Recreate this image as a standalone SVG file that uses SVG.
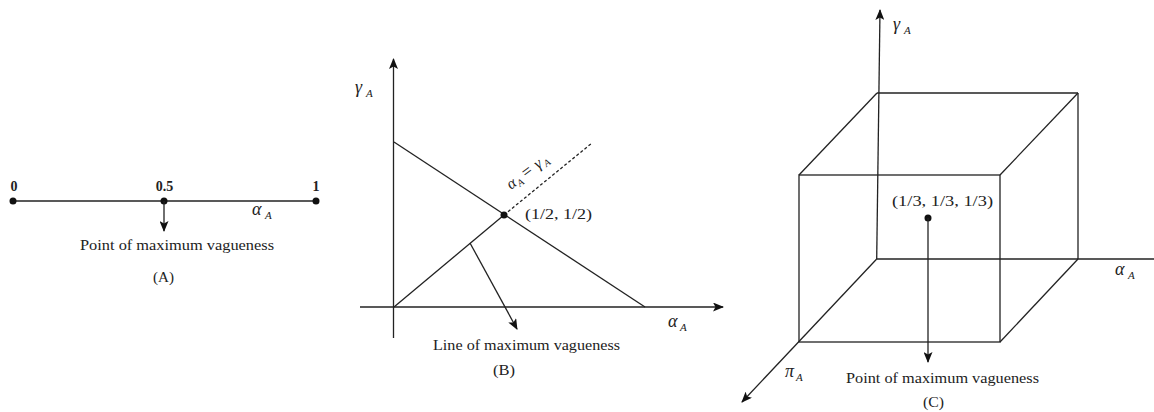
<svg xmlns="http://www.w3.org/2000/svg" width="1154" height="412" viewBox="0 0 1154 412">
<defs>
<marker id="ah" markerUnits="userSpaceOnUse" markerWidth="11" markerHeight="9" refX="10" refY="4.5" orient="auto">
<path d="M0,0 L11,4.5 L0,9 L2.5,4.5 z" fill="#111"/>
</marker>
<style>
line, polyline, path.l { stroke: #222; stroke-width: 1.3; fill: none; }
.arr { marker-end: url(#ah); }
.dash { stroke-dasharray: 3 2.2; }
.dot { fill: #111; }
text { font-family: "Liberation Serif", "Times New Roman", serif; fill: #222; font-size: 15px; }
.b { font-weight: bold; font-size: 14px; }
.m { font-style: italic; font-size: 18px; }
.s { font-style: italic; font-size: 11px; }
.mid { text-anchor: middle; }
</style>
</defs>
<rect width="1154" height="412" fill="#fff"/>

<g id="panelA">
<line x1="13" y1="201" x2="316" y2="201"/>
<circle class="dot" cx="13" cy="201" r="3.5"/>
<circle class="dot" cx="164" cy="201" r="3.5"/>
<circle class="dot" cx="316" cy="201" r="3.5"/>
<line class="arr" x1="164" y1="201" x2="164" y2="231"/>
<text class="b mid" x="14" y="191">0</text>
<text class="b mid" x="164.5" y="191">0.5</text>
<text class="b mid" x="316" y="191">1</text>
<text class="m" x="252" y="215">α</text><text class="s" x="265" y="219">A</text>
<text class="mid" x="177" y="250" textLength="194" lengthAdjust="spacingAndGlyphs">Point of maximum vagueness</text>
<text class="mid" x="163.5" y="282" textLength="21" lengthAdjust="spacingAndGlyphs">(A)</text>
</g>

<g id="panelB">
<line class="arr" x1="393.5" y1="338" x2="393.5" y2="59"/>
<line class="arr" x1="360" y1="307" x2="723" y2="307"/>
<line x1="394" y1="142" x2="645" y2="307"/>
<line x1="394" y1="307" x2="504" y2="215"/>
<line class="dash" x1="504" y1="215" x2="592" y2="143"/>
<circle class="dot" cx="504" cy="215" r="3.5"/>
<line class="arr" x1="470" y1="243" x2="517" y2="329"/>
<text class="m" x="355" y="93">γ</text><text class="s" x="366" y="97">A</text>
<text x="525" y="219" textLength="67" lengthAdjust="spacingAndGlyphs">(1/2, 1/2)</text>
<g transform="translate(535,172) rotate(-37)">
<text class="m" x="-30" y="0" style="font-size:16px">α</text><text class="s" x="-21" y="3" style="font-size:10px">A</text>
<text x="-11" y="0" style="font-size:17px">=</text>
<text class="m" x="4" y="0" style="font-size:16px">γ</text><text class="s" x="12" y="3" style="font-size:10px">A</text>
</g>
<text class="m" x="668" y="327">α</text><text class="s" x="680" y="331">A</text>
<text class="mid" x="526.5" y="350" textLength="187" lengthAdjust="spacingAndGlyphs">Line of maximum vagueness</text>
<text class="mid" x="504" y="375" textLength="22" lengthAdjust="spacingAndGlyphs">(B)</text>
</g>

<g id="panelC">
<rect x="799" y="175" width="201" height="167" fill="none" stroke="#222" stroke-width="1.3"/>
<line x1="877" y1="93" x2="1078" y2="93"/>
<line x1="1078" y1="93" x2="1078" y2="259"/>
<line x1="799" y1="175" x2="877" y2="93"/>
<line x1="1000" y1="175" x2="1078" y2="93"/>
<line x1="1000" y1="342" x2="1078" y2="259"/>
<line class="arr" x1="876.7" y1="259" x2="880" y2="10"/>
<line x1="876.7" y1="259" x2="1154" y2="259"/>
<line class="arr" x1="876.7" y1="259" x2="742" y2="402"/>
<circle class="dot" cx="928" cy="218" r="3.5"/>
<line class="arr" x1="928" y1="218" x2="928" y2="362"/>
<text x="892" y="206" textLength="101" lengthAdjust="spacingAndGlyphs">(1/3, 1/3, 1/3)</text>
<text class="m" x="893" y="30">γ</text><text class="s" x="904" y="34">A</text>
<text class="m" x="1115" y="275">α</text><text class="s" x="1128" y="279">A</text>
<text class="m" x="785" y="377">π</text><text class="s" x="796" y="381">A</text>
<text class="mid" x="942.5" y="383" textLength="193" lengthAdjust="spacingAndGlyphs">Point of maximum vagueness</text>
<text class="mid" x="933.5" y="407" textLength="21" lengthAdjust="spacingAndGlyphs">(C)</text>
</g>
</svg>
